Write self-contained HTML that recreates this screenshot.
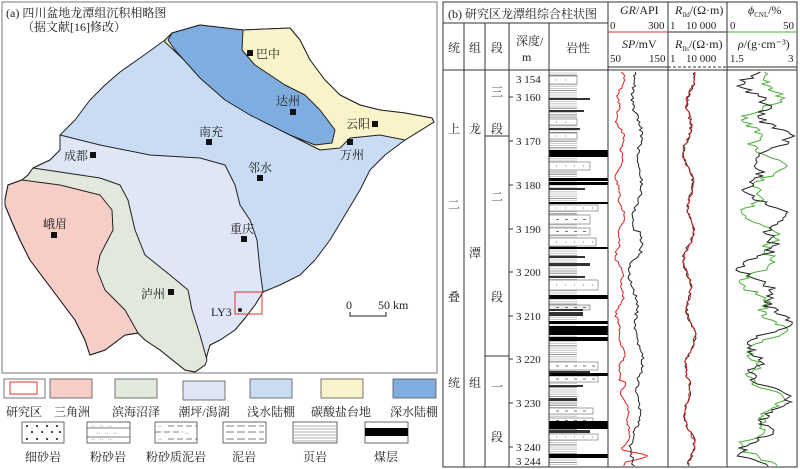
<!DOCTYPE html>
<html><head><meta charset="utf-8"><style>
html,body{margin:0;padding:0;background:#fff}
svg{display:block}
text{font-family:"Liberation Serif","Noto Serif CJK SC",serif;fill:#222}
</style></head><body>
<svg id="s" width="800" height="469" viewBox="0 0 800 469" xmlns="http://www.w3.org/2000/svg">
<rect width="800" height="469" fill="#fff"/>
<rect x="2" y="2" width="435" height="371" fill="#fff" stroke="#777" stroke-width="1"/>
<g stroke="#222" stroke-width="1" stroke-linejoin="round">
<polygon fill="#c9dcf3" points="165,40 172,33 200,25 243,30 290,28 300,40 310,60 325,80 340,95 360,105 380,110 405,113 432,118 434,122 405,140 385,155 370,170 360,190 345,215 330,240 315,260 300,275 280,285 263,292 255,305 245,318 235,330 220,340 210,345 207,355 205,365 195,372 185,370 175,362 160,350 145,340 138,333 125,335 105,350 90,355 85,340 75,320 60,300 45,280 30,260 20,240 12,222 5,205 5,200 8,185 22,180 28,175 33,168 50,160 60,150 60,135 75,120 90,100 105,85 120,72 140,58 165,40"/>
<polygon fill="#f8f3c9" points="165,40 172,33 243,30 290,28 300,40 310,60 325,80 340,95 360,105 380,110 405,113 432,118 434,122 405,140 380,135 350,138 340,148 320,150 300,140 260,120 230,100 200,75 165,42"/>
<polygon fill="#80ade0" points="172,33 200,25 243,30 242,50 255,65 285,85 305,95 320,110 335,130 332,143 315,145 290,135 250,115 225,100 200,78 175,50 168,40"/>
<polygon fill="#dfe6f5" points="60,135 100,145 150,155 200,158 225,165 235,185 240,205 250,220 257,240 260,270 263,292 255,305 245,318 235,330 220,340 210,345 207,355 205,365 195,372 185,370 175,362 160,350 145,340 138,333 125,335 105,350 90,355 85,340 75,320 60,300 45,280 30,260 20,240 12,222 5,205 5,200 8,185 22,180 28,175 33,168 50,160 60,150"/>
<polygon fill="#e3e8dc" points="33,168 60,172 100,178 120,185 128,200 135,230 145,255 170,275 188,290 192,310 200,335 207,360 205,365 195,372 185,370 175,362 160,350 145,340 138,333 125,335 105,350 90,355 85,340 75,320 60,300 45,280 30,260 20,240 12,222 5,205 5,200 8,185 22,180 28,175"/>
<polygon fill="#f7cdc8" points="22,180 60,185 100,195 112,210 113,230 100,255 97,270 105,290 125,310 138,333 125,335 105,350 90,355 85,340 75,320 60,300 45,280 30,260 20,240 12,222 5,205 5,200 8,185"/>
</g>
<rect x="235" y="292" width="27" height="22" fill="none" stroke="#e03030" stroke-width="1"/>
<g font-size="12">
<text x="6" y="17">(a) 四川盆地龙潭组沉积相略图</text>
<text x="22" y="31">（据文献[16]修改）</text>
</g>
<g fill="#111">
<rect x="247" y="50" width="6" height="6"/><rect x="290" y="109" width="6" height="6"/>
<rect x="372" y="121" width="6" height="6"/><rect x="347" y="139" width="6" height="6"/>
<rect x="206" y="139" width="6" height="6"/><rect x="90" y="152" width="6" height="6"/>
<rect x="257" y="175" width="6" height="6"/><rect x="241" y="236" width="6" height="6"/>
<rect x="51" y="232" width="6" height="6"/><rect x="168" y="289" width="6" height="6"/>
<circle cx="240" cy="310" r="2"/>
</g>
<g font-size="12">
<text x="256" y="58">巴中</text><text x="276" y="105">达州</text><text x="346" y="128">云阳</text>
<text x="340" y="159">万州</text><text x="199" y="136">南充</text><text x="64" y="160">成都</text>
<text x="248" y="172">邻水</text><text x="230" y="233">重庆</text><text x="43" y="228">峨眉</text>
<text x="141" y="298">泸州</text><text x="211" y="316">LY3</text>
<text x="346" y="309">0</text><text x="378" y="309">50 km</text>
</g>
<path d="M350,312 V316 H386 V312" fill="none" stroke="#222"/>
<g stroke="#555" stroke-width="0.8">
<rect x="4" y="379" width="41" height="19" fill="#fff"/>
<rect x="50" y="379" width="42" height="19" fill="#f7cdc8"/>
<rect x="115" y="379" width="42" height="19" fill="#e3e8dc"/>
<rect x="183" y="381" width="42" height="19" fill="#dfe6f5"/>
<rect x="250" y="379" width="42" height="19" fill="#c9dcf3"/>
<rect x="321" y="379" width="42" height="19" fill="#f8f3c9"/>
<rect x="393" y="379" width="43" height="19" fill="#80ade0"/>
</g>
<rect x="10" y="382" width="27" height="12" fill="none" stroke="#e03030"/>
<g font-size="12" text-anchor="middle">
<text x="24" y="416">研究区</text><text x="72" y="416">三角洲</text><text x="136" y="416">滨海沼泽</text>
<text x="204" y="416">潮坪/潟湖</text><text x="271" y="416">浅水陆棚</text><text x="341" y="416">碳酸盐台地</text>
<text x="414" y="416">深水陆棚</text>
<text x="43" y="461">细砂岩</text><text x="108" y="461">粉砂岩</text><text x="176" y="461">粉砂质泥岩</text>
<text x="244" y="461">泥岩</text><text x="315" y="461">页岩</text><text x="386" y="461">煤层</text>
</g>
<g stroke="#444" stroke-width="0.8" fill="#fff">
<rect x="22" y="422" width="42" height="21"/><rect x="87" y="422" width="43" height="21"/>
<rect x="155" y="422" width="42" height="21"/><rect x="223" y="422" width="43" height="21"/>
<rect x="293" y="422" width="44" height="21"/><rect x="365" y="422" width="43" height="21"/>
</g>
<g fill="#111">
<circle cx="27" cy="426" r="1"/><circle cx="37" cy="426" r="1"/><circle cx="47" cy="426" r="1"/><circle cx="57" cy="426" r="1"/>
<circle cx="32" cy="432" r="1"/><circle cx="42" cy="432" r="1"/><circle cx="52" cy="432" r="1"/><circle cx="60" cy="432" r="1"/>
<circle cx="27" cy="439" r="1"/><circle cx="37" cy="439" r="1"/><circle cx="47" cy="439" r="1"/><circle cx="57" cy="439" r="1"/>
</g>
<g fill="#333" font-size="6"><text x="91" y="428">·· &#160; ·· &#160; ··</text><text x="96" y="435">·· &#160; ·· &#160; ··</text><text x="91" y="441">·· &#160; ·· &#160; ··</text>
<text x="158" y="428">··</text><text x="185" y="435">··</text><text x="158" y="441">··</text></g>
<g stroke="#555" stroke-width="0.8">
<path d="M87,428H130M87,437H130"/>
<path d="M168,426H197M155,432H183M168,439H197" stroke-dasharray="6,3"/>
<path d="M226,426H264M226,432H264M226,439H264" stroke-dasharray="8,3"/>
<path d="M293,426H337M293,429H337M293,432H337M293,435H337M293,438H337M293,441H337" stroke="#999"/>
</g>
<rect x="365" y="428" width="43" height="8" fill="#000"/>

<g id="lith"></g>
<g stroke="#333" stroke-width="1" fill="none">
<rect x="443" y="2" width="354" height="465"/>
<path d="M443,23H608M443,70H797M608,2V467M668,2V467M727,2V467M464,23V467M485,23V467M509,23V467M549,23V467M485,136H509M485,356H509"/>
<path d="M608,32H668" stroke="#e03030"/><path d="M727,32H797" stroke="#4caf3a"/><path d="M668,32H727"/>
<path d="M608,67H668M727,67H797"/><path d="M668,67H727" stroke-dasharray="3,2"/>
</g>
<g font-size="12">
<text x="448" y="18">(b) 研究区龙潭组综合柱状图</text>
<text x="448" y="52">统</text><text x="469" y="52">组</text><text x="491" y="52">段</text>
<text x="516" y="45">深度/</text><text x="522" y="61">m</text><text x="566" y="52">岩性</text>
<text x="620" y="14"><tspan font-style="italic">GR</tspan>/API</text>
<text x="610" y="29" font-size="11">0</text><text x="648" y="29" font-size="11">300</text>
<text x="622" y="48"><tspan font-style="italic">SP</tspan>/mV</text>
<text x="610" y="62" font-size="11">50</text><text x="649" y="62" font-size="11">150</text>
<text x="675" y="14"><tspan font-style="italic">R</tspan><tspan font-size="7" dy="3">lld</tspan><tspan dy="-3">/(Ω·m)</tspan></text>
<text x="670" y="29" font-size="11">1</text><text x="686" y="29" font-size="11">10 000</text>
<text x="675" y="48"><tspan font-style="italic">R</tspan><tspan font-size="7" dy="3">lls</tspan><tspan dy="-3">/(Ω·m)</tspan></text>
<text x="670" y="62" font-size="11">1</text><text x="686" y="62" font-size="11">10 000</text>
<text x="748" y="14"><tspan font-style="italic">ϕ</tspan><tspan font-size="7" dy="3">CNL</tspan><tspan dy="-3">/%</tspan></text>
<text x="730" y="29" font-size="11">0</text><text x="783" y="29" font-size="11">50</text>
<text x="738" y="48"><tspan font-style="italic">ρ</tspan>/(g·cm⁻³)</text>
<text x="730" y="62" font-size="11">1.5</text><text x="788" y="62" font-size="11">3</text>
<text x="448" y="133">上</text><text x="448" y="209">二</text><text x="448" y="301">叠</text><text x="448" y="387">统</text>
<text x="469" y="133">龙</text><text x="469" y="257">潭</text><text x="469" y="387">组</text>
<text x="491" y="96">三</text><text x="491" y="133">段</text><text x="491" y="201">二</text><text x="491" y="301">段</text>
<text x="491" y="391">一</text><text x="491" y="441">段</text>
</g>
<g font-size="11">
<text x="516" y="83">3 154</text><text x="516" y="101">3 160</text><text x="516" y="145">3 170</text>
<text x="516" y="189">3 180</text><text x="516" y="233">3 190</text><text x="516" y="276">3 200</text>
<text x="516" y="320">3 210</text><text x="516" y="363">3 220</text><text x="516" y="407">3 230</text>
<text x="516" y="451">3 240</text><text x="516" y="465">3 244</text>
</g>
<path d="M509,97h4M509,141h4M509,185h4M509,229h4M509,272h4M509,316h4M509,359h4M509,403h4M509,447h4" stroke="#333"/>
<g id="curves" fill="none" stroke-width="1"></g>
</svg>
<script>
var NS="http://www.w3.org/2000/svg";
function el(p,t,a){var e=document.createElementNS(NS,t);for(var k in a)e.setAttribute(k,a[k]);p.appendChild(e);return e;}
var L=document.getElementById('lith');
for(var y=73;y<466;y+=2.2){el(L,'line',{x1:549,x2:577,y1:y,y2:y,stroke:(Math.floor(y)%3?'#bbb':'#777'),'stroke-width':0.8});}
var boxes=[[76,84,577,'#fff',1],[119,125,577,'#fff',1],[133,139,577,'#fff',1],[162,170,590,'#fff',1],[205,211,598,'#fff',1],[215,224,590,'#fff',0],[228,235,590,'#fff',0],[238,246,596,'#fff',1],[280,290,598,'#fff',1],[305,310,590,'#eee',0],[362,370,598,'#fff',0],[376,382,598,'#fff',0],[408,414,593,'#fff',0],[418,423,593,'#fff',0],[434,440,598,'#fff',1]];
boxes.forEach(function(b){el(L,'rect',{x:549,y:b[0],width:b[2]-549,height:b[1]-b[0],fill:b[3],stroke:'#666','stroke-width':0.6});
 for(var x=556;x<b[2]-3;x+=9){el(L,'rect',{x:x,y:(b[0]+b[1])/2-0.4,width:b[4]?1:3,height:0.8,fill:'#555'});}});
var coal=[[150,157],[178,181],[182,185],[202,204],[247,249],[295,299],[321,324],[326,335],[337,341],[373,376],[421,429],[454,458]];
coal.forEach(function(c){el(L,'rect',{x:549,y:c[0],width:59,height:c[1]-c[0],fill:'#000'});});
var dark=[[98,100,590],[110,112,584],[128,130,580],[188,190,585],[256,258,585],[263,266,590],[276,278,585],[309,311,583],[312,316,583],[371,373,590],[385,387,583],[398,401,577],[430,433,590]];
dark.forEach(function(c){el(L,'rect',{x:549,y:c[0],width:c[2]-549,height:c[1]-c[0],fill:'#333'});});
var C=document.getElementById('curves');
function rnd(s){var x=Math.sin(s*12.9898)*43758.5453;return x-Math.floor(x);}
function curve(base,amp,f1,f2,seed,col,clip0,clip1,step,extra){
 var pts=[];for(var y=72;y<=466;y+=step){var v=base+amp*(Math.sin(y*f1+seed)*0.6+Math.sin(y*f2+seed*2)*0.4)+(rnd(y+seed)-0.5)*amp*0.5;
 if(extra)v+=extra(y);v=Math.max(clip0,Math.min(clip1,v));pts.push(v.toFixed(1)+','+y);}
 el(C,'polyline',{points:pts.join(' '),stroke:col});}
curve(620,5,0.09,0.23,1,'#e02020',609,667,2,function(y){if(y>450&&y<462)return 30*Math.sin((y-450)/12*Math.PI);if(y>380)return 6;return 0;});
curve(636,7,0.03,0.11,3,'#222',609,667,2,function(y){return (y>230&&y<260)?6:0;});
curve(689,6,0.12,0.05,5,'#222',669,726,2);
curve(689,6,0.12,0.05,5,'#d02020',669,726,2.5);
curve(762,22,0.08,0.19,7,'#4caf3a',728,796,2);
curve(765,25,0.07,0.17,11,'#222',728,796,2);
</script>
</body></html>
